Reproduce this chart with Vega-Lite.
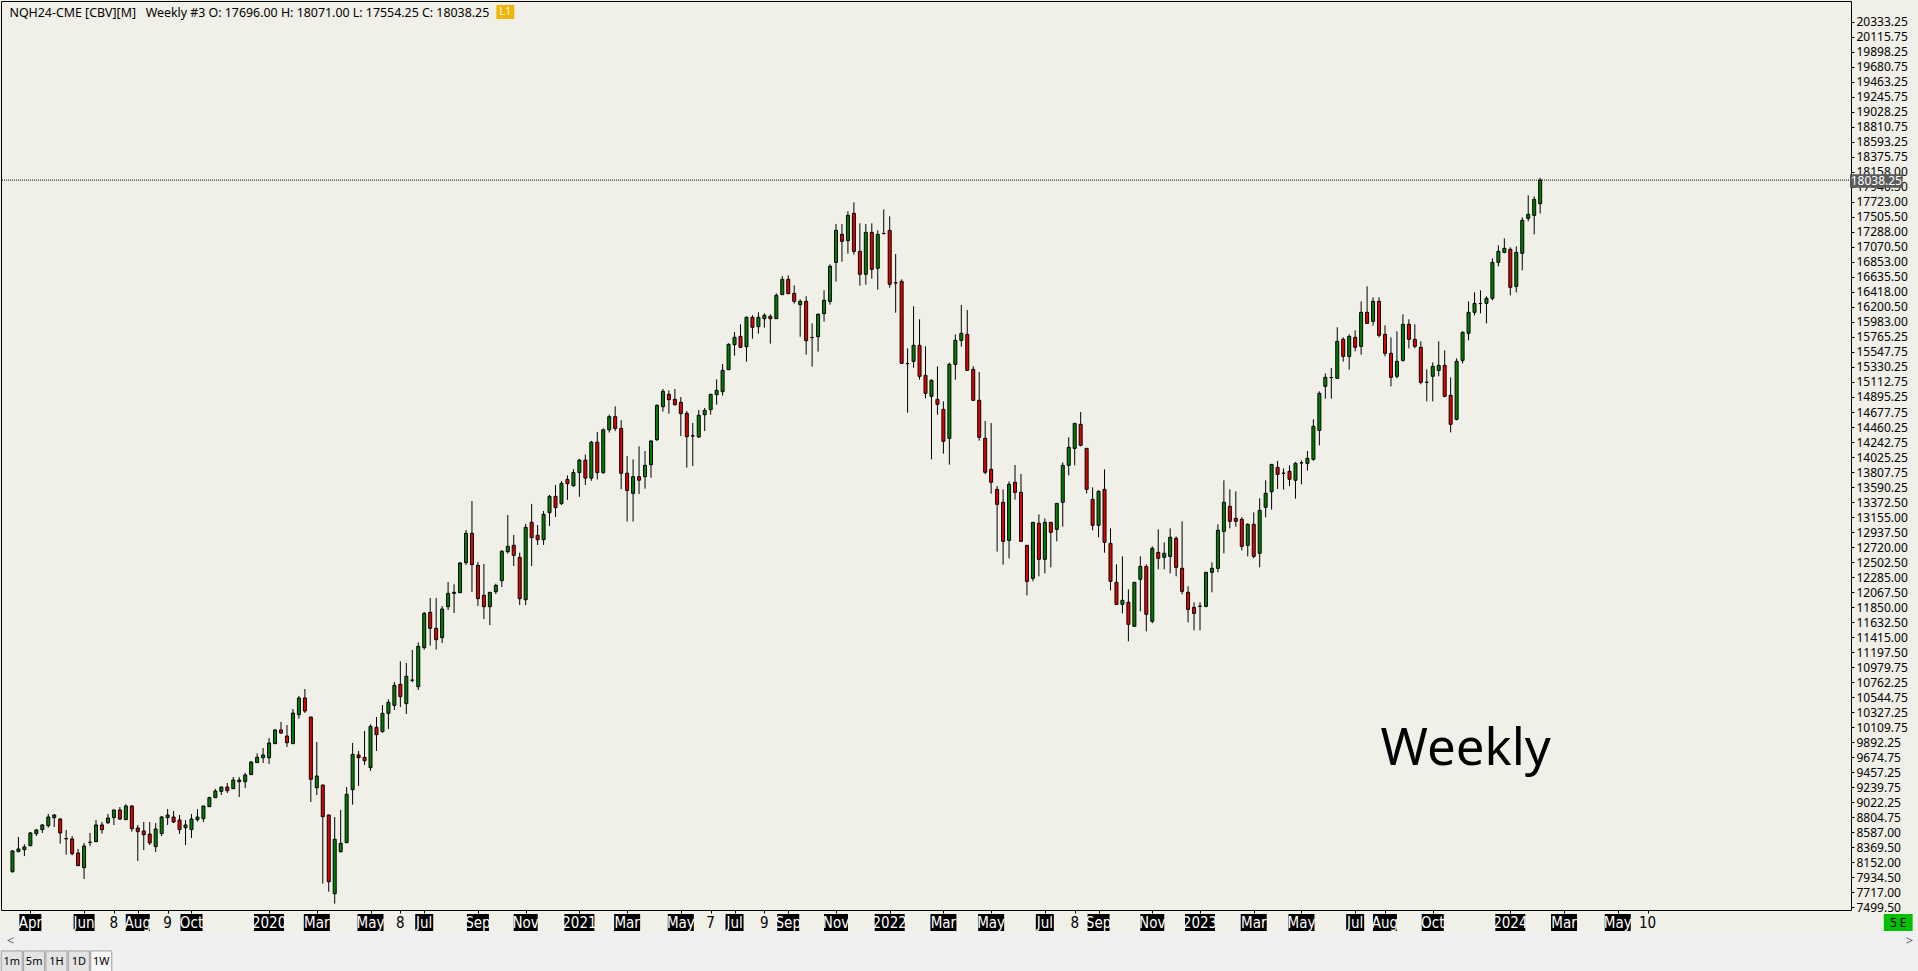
{
"$schema": "https://vega.github.io/schema/vega-lite/v6.json",
"background": "#f0efe8",
"padding": 0,
"spacing": 0,
"config": {"view": {"stroke": null}, "font": "Noto Sans"},
"resolve": {"scale": {"x": "independent", "y": "independent"}},
"datasets": {
"candles": [
{"d":"2019-03-11","o":8017,"h":8331,"l":8003,"c":8317},
{"d":"2019-03-18","o":8307,"h":8520,"l":8300,"c":8346},
{"d":"2019-03-25","o":8336,"h":8413,"l":8244,"c":8375},
{"d":"2019-04-01","o":8394,"h":8592,"l":8384,"c":8578},
{"d":"2019-04-08","o":8568,"h":8636,"l":8534,"c":8621},
{"d":"2019-04-15","o":8626,"h":8708,"l":8577,"c":8694},
{"d":"2019-04-22","o":8684,"h":8853,"l":8655,"c":8809},
{"d":"2019-04-29","o":8800,"h":8853,"l":8664,"c":8838},
{"d":"2019-05-06","o":8780,"h":8795,"l":8423,"c":8578},
{"d":"2019-05-13","o":8497,"h":8621,"l":8264,"c":8493},
{"d":"2019-05-20","o":8491,"h":8534,"l":8254,"c":8278},
{"d":"2019-05-27","o":8288,"h":8346,"l":8100,"c":8104},
{"d":"2019-06-03","o":8075,"h":8433,"l":7911,"c":8389},
{"d":"2019-06-10","o":8440,"h":8578,"l":8389,"c":8444},
{"d":"2019-06-17","o":8452,"h":8766,"l":8448,"c":8694},
{"d":"2019-06-24","o":8694,"h":8737,"l":8568,"c":8626},
{"d":"2019-07-01","o":8727,"h":8853,"l":8708,"c":8795},
{"d":"2019-07-08","o":8800,"h":8915,"l":8693,"c":8911},
{"d":"2019-07-15","o":8911,"h":8954,"l":8766,"c":8780},
{"d":"2019-07-22","o":8771,"h":8993,"l":8771,"c":8969},
{"d":"2019-07-29","o":8969,"h":8978,"l":8597,"c":8640},
{"d":"2019-08-05","o":8650,"h":8693,"l":8172,"c":8597},
{"d":"2019-08-12","o":8607,"h":8737,"l":8331,"c":8553},
{"d":"2019-08-19","o":8563,"h":8737,"l":8404,"c":8433},
{"d":"2019-08-26","o":8380,"h":8722,"l":8302,"c":8636},
{"d":"2019-09-02","o":8568,"h":8824,"l":8534,"c":8809},
{"d":"2019-09-09","o":8800,"h":8925,"l":8693,"c":8838},
{"d":"2019-09-16","o":8809,"h":8896,"l":8722,"c":8737},
{"d":"2019-09-23","o":8766,"h":8838,"l":8563,"c":8626},
{"d":"2019-09-30","o":8655,"h":8766,"l":8404,"c":8694},
{"d":"2019-10-07","o":8626,"h":8853,"l":8505,"c":8780},
{"d":"2019-10-14","o":8771,"h":8925,"l":8742,"c":8809},
{"d":"2019-10-21","o":8785,"h":8972,"l":8737,"c":8969},
{"d":"2019-10-28","o":8959,"h":9104,"l":8955,"c":9089},
{"d":"2019-11-04","o":9089,"h":9215,"l":9085,"c":9186},
{"d":"2019-11-11","o":9181,"h":9247,"l":9128,"c":9244},
{"d":"2019-11-18","o":9244,"h":9302,"l":9157,"c":9191},
{"d":"2019-11-25","o":9220,"h":9389,"l":9216,"c":9345},
{"d":"2019-12-02","o":9321,"h":9389,"l":9099,"c":9345},
{"d":"2019-12-09","o":9321,"h":9447,"l":9230,"c":9418},
{"d":"2019-12-16","o":9423,"h":9621,"l":9420,"c":9606},
{"d":"2019-12-23","o":9597,"h":9732,"l":9594,"c":9674},
{"d":"2019-12-30","o":9669,"h":9809,"l":9592,"c":9708},
{"d":"2020-01-06","o":9669,"h":9954,"l":9577,"c":9882},
{"d":"2020-01-13","o":9872,"h":10084,"l":9868,"c":10070},
{"d":"2020-01-20","o":10070,"h":10186,"l":10012,"c":10026},
{"d":"2020-01-27","o":9983,"h":10142,"l":9824,"c":9886},
{"d":"2020-02-03","o":9872,"h":10374,"l":9868,"c":10316},
{"d":"2020-02-10","o":10292,"h":10563,"l":10234,"c":10534},
{"d":"2020-02-17","o":10534,"h":10664,"l":10316,"c":10345},
{"d":"2020-02-24","o":10258,"h":10262,"l":9027,"c":9355},
{"d":"2020-03-02","o":9234,"h":9896,"l":9128,"c":9403},
{"d":"2020-03-09","o":9273,"h":9277,"l":7843,"c":8814},
{"d":"2020-03-16","o":8838,"h":8842,"l":7727,"c":7872},
{"d":"2020-03-23","o":7698,"h":8809,"l":7553,"c":8486},
{"d":"2020-03-30","o":8307,"h":8911,"l":8293,"c":8428},
{"d":"2020-04-06","o":8437,"h":9244,"l":8433,"c":9138},
{"d":"2020-04-13","o":9205,"h":9882,"l":8988,"c":9717},
{"d":"2020-04-20","o":9708,"h":9766,"l":9259,"c":9669},
{"d":"2020-04-27","o":9674,"h":10056,"l":9563,"c":9626},
{"d":"2020-05-04","o":9524,"h":10152,"l":9476,"c":10123},
{"d":"2020-05-11","o":10109,"h":10258,"l":9766,"c":10002},
{"d":"2020-05-18","o":10046,"h":10432,"l":10031,"c":10312},
{"d":"2020-05-25","o":10312,"h":10514,"l":10084,"c":10471},
{"d":"2020-06-01","o":10427,"h":10766,"l":10360,"c":10717},
{"d":"2020-06-08","o":10732,"h":11065,"l":10403,"c":10553},
{"d":"2020-06-15","o":10452,"h":11041,"l":10302,"c":10848},
{"d":"2020-06-22","o":10790,"h":11229,"l":10761,"c":10793},
{"d":"2020-06-29","o":10698,"h":11340,"l":10650,"c":11282},
{"d":"2020-07-06","o":11263,"h":11780,"l":11234,"c":11760},
{"d":"2020-07-13","o":11775,"h":11983,"l":11292,"c":11543},
{"d":"2020-07-20","o":11543,"h":11983,"l":11234,"c":11379},
{"d":"2020-07-27","o":11408,"h":11867,"l":11331,"c":11823},
{"d":"2020-08-03","o":11857,"h":12214,"l":11809,"c":12050},
{"d":"2020-08-10","o":12050,"h":12181,"l":11765,"c":12065},
{"d":"2020-08-17","o":12060,"h":12504,"l":12056,"c":12490},
{"d":"2020-08-24","o":12495,"h":12968,"l":12461,"c":12920},
{"d":"2020-08-31","o":12920,"h":13388,"l":12070,"c":12466},
{"d":"2020-09-07","o":12456,"h":12504,"l":11867,"c":11973},
{"d":"2020-09-14","o":12021,"h":12475,"l":11678,"c":11857},
{"d":"2020-09-21","o":11857,"h":12069,"l":11591,"c":12065},
{"d":"2020-09-28","o":12074,"h":12190,"l":12040,"c":12166},
{"d":"2020-10-05","o":12234,"h":12678,"l":12142,"c":12659},
{"d":"2020-10-12","o":12654,"h":13185,"l":12625,"c":12731},
{"d":"2020-10-19","o":12746,"h":12896,"l":12446,"c":12601},
{"d":"2020-10-26","o":12572,"h":12640,"l":11881,"c":11973},
{"d":"2020-11-02","o":11958,"h":13055,"l":11881,"c":13007},
{"d":"2020-11-09","o":13079,"h":13345,"l":12446,"c":12857},
{"d":"2020-11-16","o":12891,"h":13040,"l":12751,"c":12828},
{"d":"2020-11-23","o":12828,"h":13243,"l":12751,"c":13195},
{"d":"2020-11-30","o":13219,"h":13475,"l":13026,"c":13456},
{"d":"2020-12-07","o":13456,"h":13620,"l":13156,"c":13292},
{"d":"2020-12-14","o":13350,"h":13678,"l":13330,"c":13644},
{"d":"2020-12-21","o":13700,"h":13760,"l":13403,"c":13639},
{"d":"2020-12-28","o":13610,"h":13850,"l":13596,"c":13800},
{"d":"2021-01-04","o":13800,"h":14000,"l":13450,"c":13980},
{"d":"2021-01-11","o":13980,"h":14060,"l":13620,"c":13720},
{"d":"2021-01-18","o":13720,"h":14260,"l":13680,"c":14240},
{"d":"2021-01-25","o":14240,"h":14390,"l":13700,"c":13800},
{"d":"2021-02-01","o":13800,"h":14440,"l":13780,"c":14420},
{"d":"2021-02-08","o":14420,"h":14640,"l":14380,"c":14610},
{"d":"2021-02-15","o":14610,"h":14760,"l":14400,"c":14440},
{"d":"2021-02-22","o":14440,"h":14560,"l":13560,"c":13790},
{"d":"2021-03-01","o":13790,"h":14040,"l":13090,"c":13540},
{"d":"2021-03-08","o":13500,"h":13990,"l":13090,"c":13740},
{"d":"2021-03-15","o":13740,"h":14180,"l":13490,"c":13690},
{"d":"2021-03-22","o":13741,"h":14113,"l":13567,"c":13905},
{"d":"2021-03-29","o":13915,"h":14267,"l":13726,"c":14258},
{"d":"2021-04-05","o":14277,"h":14789,"l":14258,"c":14774},
{"d":"2021-04-12","o":14755,"h":15011,"l":14683,"c":14977},
{"d":"2021-04-19","o":14934,"h":14992,"l":14654,"c":14857},
{"d":"2021-04-26","o":14861,"h":15011,"l":14770,"c":14784},
{"d":"2021-05-03","o":14818,"h":14895,"l":14330,"c":14654},
{"d":"2021-05-10","o":14658,"h":14692,"l":13871,"c":14320},
{"d":"2021-05-17","o":14330,"h":14519,"l":13895,"c":14333},
{"d":"2021-05-24","o":14316,"h":14707,"l":14301,"c":14630},
{"d":"2021-05-31","o":14639,"h":14736,"l":14402,"c":14702},
{"d":"2021-06-07","o":14712,"h":14938,"l":14639,"c":14934},
{"d":"2021-06-14","o":14929,"h":15151,"l":14784,"c":14992},
{"d":"2021-06-21","o":14972,"h":15373,"l":14915,"c":15282},
{"d":"2021-06-28","o":15291,"h":15673,"l":15287,"c":15658},
{"d":"2021-07-05","o":15653,"h":15837,"l":15494,"c":15760},
{"d":"2021-07-12","o":15774,"h":15948,"l":15610,"c":15615},
{"d":"2021-07-19","o":15624,"h":16064,"l":15407,"c":16050},
{"d":"2021-07-26","o":16050,"h":16079,"l":15740,"c":15905},
{"d":"2021-08-02","o":15914,"h":16122,"l":15813,"c":16050},
{"d":"2021-08-09","o":16030,"h":16108,"l":15900,"c":16079},
{"d":"2021-08-16","o":16064,"h":16093,"l":15668,"c":16030},
{"d":"2021-08-23","o":16030,"h":16397,"l":16026,"c":16368},
{"d":"2021-08-30","o":16378,"h":16648,"l":16374,"c":16600},
{"d":"2021-09-06","o":16600,"h":16658,"l":16388,"c":16392},
{"d":"2021-09-13","o":16397,"h":16513,"l":16248,"c":16281},
{"d":"2021-09-20","o":16233,"h":16310,"l":15769,"c":16281},
{"d":"2021-09-27","o":16281,"h":16354,"l":15509,"c":15711},
{"d":"2021-10-04","o":15755,"h":15963,"l":15335,"c":15758},
{"d":"2021-10-11","o":15769,"h":16108,"l":15552,"c":16093},
{"d":"2021-10-18","o":16103,"h":16441,"l":15987,"c":16296},
{"d":"2021-10-25","o":16281,"h":16818,"l":16233,"c":16789},
{"d":"2021-11-01","o":16846,"h":17402,"l":16566,"c":17310},
{"d":"2021-11-08","o":17252,"h":17402,"l":16856,"c":17151},
{"d":"2021-11-15","o":17160,"h":17585,"l":16972,"c":17527},
{"d":"2021-11-22","o":17556,"h":17716,"l":16958,"c":17006},
{"d":"2021-11-29","o":17006,"h":17412,"l":16508,"c":16673},
{"d":"2021-12-06","o":16673,"h":17402,"l":16523,"c":17281},
{"d":"2021-12-13","o":17281,"h":17412,"l":16610,"c":16745},
{"d":"2021-12-20","o":16760,"h":17310,"l":16450,"c":17252},
{"d":"2021-12-27","o":17262,"h":17614,"l":17252,"c":17265},
{"d":"2022-01-03","o":17310,"h":17513,"l":16479,"c":16528},
{"d":"2022-01-10","o":16547,"h":16967,"l":16117,"c":16550},
{"d":"2022-01-17","o":16571,"h":16600,"l":15380,"c":15383},
{"d":"2022-01-24","o":15378,"h":15600,"l":14668,"c":15381},
{"d":"2022-01-31","o":15412,"h":16209,"l":15320,"c":15644},
{"d":"2022-02-07","o":15644,"h":16021,"l":15146,"c":15195},
{"d":"2022-02-14","o":15209,"h":15629,"l":14876,"c":14948},
{"d":"2022-02-21","o":14905,"h":15151,"l":13992,"c":15137},
{"d":"2022-02-28","o":14861,"h":15339,"l":14639,"c":14789},
{"d":"2022-03-07","o":14716,"h":14832,"l":14074,"c":14253},
{"d":"2022-03-14","o":14296,"h":15393,"l":13915,"c":15368},
{"d":"2022-03-21","o":15368,"h":15803,"l":15146,"c":15716},
{"d":"2022-03-28","o":15716,"h":16228,"l":15625,"c":15818},
{"d":"2022-04-04","o":15803,"h":16156,"l":15278,"c":15282},
{"d":"2022-04-11","o":15296,"h":15340,"l":14843,"c":14847},
{"d":"2022-04-18","o":14847,"h":15257,"l":14262,"c":14311},
{"d":"2022-04-25","o":14296,"h":14547,"l":13775,"c":13804},
{"d":"2022-05-02","o":13847,"h":14518,"l":13494,"c":13659},
{"d":"2022-05-09","o":13557,"h":13606,"l":12654,"c":13340},
{"d":"2022-05-16","o":13369,"h":13557,"l":12466,"c":12804},
{"d":"2022-05-23","o":12818,"h":13673,"l":12557,"c":13630},
{"d":"2022-05-30","o":13659,"h":13910,"l":13408,"c":13514},
{"d":"2022-06-06","o":13514,"h":13779,"l":12800,"c":12804},
{"d":"2022-06-13","o":12746,"h":12750,"l":12021,"c":12224},
{"d":"2022-06-20","o":12268,"h":13083,"l":12224,"c":13079},
{"d":"2022-06-27","o":13065,"h":13195,"l":12297,"c":12543},
{"d":"2022-07-04","o":12543,"h":13137,"l":12340,"c":13079},
{"d":"2022-07-11","o":13079,"h":13083,"l":12427,"c":12934},
{"d":"2022-07-18","o":12978,"h":13358,"l":12804,"c":13354},
{"d":"2022-07-25","o":13369,"h":13948,"l":13016,"c":13905},
{"d":"2022-08-01","o":13905,"h":14311,"l":13760,"c":14166},
{"d":"2022-08-08","o":14151,"h":14517,"l":13905,"c":14513},
{"d":"2022-08-15","o":14499,"h":14678,"l":14180,"c":14195},
{"d":"2022-08-22","o":14151,"h":14155,"l":13499,"c":13557},
{"d":"2022-08-29","o":13412,"h":13586,"l":12963,"c":13036},
{"d":"2022-09-05","o":13036,"h":13543,"l":12862,"c":13528},
{"d":"2022-09-12","o":13557,"h":13847,"l":12640,"c":12789},
{"d":"2022-09-19","o":12775,"h":12992,"l":12094,"c":12224},
{"d":"2022-09-26","o":12210,"h":12470,"l":11887,"c":11891},
{"d":"2022-10-03","o":11891,"h":12586,"l":11761,"c":11949},
{"d":"2022-10-10","o":11920,"h":12108,"l":11355,"c":11601},
{"d":"2022-10-17","o":11572,"h":12214,"l":11568,"c":12210},
{"d":"2022-10-24","o":12253,"h":12586,"l":11790,"c":12441},
{"d":"2022-10-31","o":12441,"h":12470,"l":11500,"c":11746},
{"d":"2022-11-07","o":11645,"h":12731,"l":11616,"c":12702},
{"d":"2022-11-14","o":12644,"h":12978,"l":12398,"c":12557},
{"d":"2022-11-21","o":12572,"h":12789,"l":12398,"c":12630},
{"d":"2022-11-28","o":12586,"h":12992,"l":12340,"c":12862},
{"d":"2022-12-05","o":12847,"h":12876,"l":12297,"c":12427},
{"d":"2022-12-12","o":12413,"h":13094,"l":12036,"c":12079},
{"d":"2022-12-19","o":12065,"h":12152,"l":11630,"c":11818},
{"d":"2022-12-26","o":11847,"h":11920,"l":11514,"c":11760},
{"d":"2023-01-02","o":11862,"h":11920,"l":11514,"c":11865},
{"d":"2023-01-09","o":11862,"h":12360,"l":11847,"c":12355},
{"d":"2023-01-16","o":12355,"h":12500,"l":12065,"c":12413},
{"d":"2023-01-23","o":12413,"h":13050,"l":12355,"c":12963},
{"d":"2023-01-30","o":12949,"h":13688,"l":12630,"c":13369},
{"d":"2023-02-06","o":13311,"h":13557,"l":12992,"c":13094},
{"d":"2023-02-13","o":13137,"h":13528,"l":13016,"c":13094},
{"d":"2023-02-20","o":13123,"h":13152,"l":12673,"c":12731},
{"d":"2023-02-27","o":12746,"h":13065,"l":12586,"c":13050},
{"d":"2023-03-06","o":13050,"h":13224,"l":12557,"c":12586},
{"d":"2023-03-13","o":12630,"h":13427,"l":12427,"c":13253},
{"d":"2023-03-20","o":13296,"h":13688,"l":13152,"c":13499},
{"d":"2023-03-27","o":13523,"h":13923,"l":13263,"c":13919},
{"d":"2023-04-03","o":13876,"h":13968,"l":13562,"c":13774},
{"d":"2023-04-10","o":13789,"h":13861,"l":13552,"c":13792},
{"d":"2023-04-17","o":13818,"h":13905,"l":13605,"c":13702},
{"d":"2023-04-24","o":13688,"h":13953,"l":13422,"c":13934},
{"d":"2023-05-01","o":13939,"h":13977,"l":13630,"c":13942},
{"d":"2023-05-08","o":13934,"h":14113,"l":13828,"c":14006},
{"d":"2023-05-15","o":13992,"h":14572,"l":13973,"c":14470},
{"d":"2023-05-22","o":14412,"h":14977,"l":14195,"c":14948},
{"d":"2023-05-29","o":15050,"h":15238,"l":14871,"c":15180},
{"d":"2023-06-05","o":15175,"h":15315,"l":14871,"c":15178},
{"d":"2023-06-12","o":15166,"h":15905,"l":15162,"c":15702},
{"d":"2023-06-19","o":15731,"h":15760,"l":15407,"c":15484},
{"d":"2023-06-26","o":15484,"h":15803,"l":15291,"c":15774},
{"d":"2023-07-03","o":15760,"h":15861,"l":15557,"c":15615},
{"d":"2023-07-10","o":15629,"h":16281,"l":15508,"c":16122},
{"d":"2023-07-17","o":16122,"h":16499,"l":15958,"c":15962},
{"d":"2023-07-24","o":15991,"h":16339,"l":15929,"c":16281},
{"d":"2023-07-31","o":16281,"h":16339,"l":15760,"c":15789},
{"d":"2023-08-07","o":15803,"h":15934,"l":15484,"c":15528},
{"d":"2023-08-14","o":15528,"h":15760,"l":15050,"c":15180},
{"d":"2023-08-21","o":15195,"h":15847,"l":15166,"c":15412},
{"d":"2023-08-28","o":15426,"h":16093,"l":15407,"c":15948},
{"d":"2023-09-04","o":15948,"h":16021,"l":15600,"c":15731},
{"d":"2023-09-11","o":15731,"h":15948,"l":15600,"c":15629},
{"d":"2023-09-18","o":15615,"h":15702,"l":15079,"c":15108},
{"d":"2023-09-25","o":15108,"h":15296,"l":14832,"c":15110},
{"d":"2023-10-02","o":15195,"h":15397,"l":14832,"c":15339},
{"d":"2023-10-09","o":15281,"h":15702,"l":15195,"c":15354},
{"d":"2023-10-16","o":15354,"h":15571,"l":14890,"c":14905},
{"d":"2023-10-23","o":14919,"h":15180,"l":14383,"c":14499},
{"d":"2023-10-30","o":14571,"h":15455,"l":14557,"c":15412},
{"d":"2023-11-06","o":15426,"h":15847,"l":15383,"c":15832},
{"d":"2023-11-13","o":15818,"h":16281,"l":15716,"c":16122},
{"d":"2023-11-20","o":16122,"h":16412,"l":16078,"c":16252},
{"d":"2023-11-27","o":16248,"h":16441,"l":16107,"c":16250},
{"d":"2023-12-04","o":16252,"h":16354,"l":15962,"c":16325},
{"d":"2023-12-11","o":16325,"h":16904,"l":16296,"c":16846},
{"d":"2023-12-18","o":16846,"h":17093,"l":16788,"c":17006},
{"d":"2023-12-25","o":16991,"h":17194,"l":16977,"c":17049},
{"d":"2024-01-01","o":17035,"h":17064,"l":16368,"c":16484},
{"d":"2024-01-08","o":16499,"h":17078,"l":16412,"c":16991},
{"d":"2024-01-15","o":16977,"h":17498,"l":16730,"c":17455},
{"d":"2024-01-22","o":17484,"h":17817,"l":17441,"c":17542},
{"d":"2024-01-29","o":17527,"h":17803,"l":17252,"c":17759},
{"d":"2024-02-05","o":17696,"h":18071,"l":17554.25,"c":18038.25}
],
"labels": [
{"d":"2019-04-01","t":"Apr"},{"d":"2019-06-03","t":"Jun"},{"d":"2019-07-08","t":"8"},{"d":"2019-08-05","t":"Aug"},{"d":"2019-09-09","t":"9"},{"d":"2019-10-07","t":"Oct"},
{"d":"2020-01-06","t":"2020"},{"d":"2020-03-02","t":"Mar"},{"d":"2020-05-04","t":"May"},{"d":"2020-06-08","t":"8"},{"d":"2020-07-06","t":"Jul"},{"d":"2020-09-07","t":"Sep"},{"d":"2020-11-02","t":"Nov"},
{"d":"2021-01-04","t":"2021"},{"d":"2021-03-01","t":"Mar"},{"d":"2021-05-03","t":"May"},{"d":"2021-06-07","t":"7"},{"d":"2021-07-05","t":"Jul"},{"d":"2021-08-09","t":"9"},{"d":"2021-09-06","t":"Sep"},{"d":"2021-11-01","t":"Nov"},
{"d":"2022-01-03","t":"2022"},{"d":"2022-03-07","t":"Mar"},{"d":"2022-05-02","t":"May"},{"d":"2022-07-04","t":"Jul"},{"d":"2022-08-08","t":"8"},{"d":"2022-09-05","t":"Sep"},{"d":"2022-11-07","t":"Nov"},
{"d":"2023-01-02","t":"2023"},{"d":"2023-03-06","t":"Mar"},{"d":"2023-05-01","t":"May"},{"d":"2023-07-03","t":"Jul"},{"d":"2023-08-07","t":"Aug"},{"d":"2023-10-02","t":"Oct"},
{"d":"2024-01-01","t":"2024"},{"d":"2024-03-04","t":"Mar"},{"d":"2024-05-06","t":"May"},{"d":"2024-06-10","t":"10"}
],
"buttons": [{"b":"1m"},{"b":"5m"},{"b":"1H"},{"b":"1D"},{"b":"1W"}]
},
"vconcat": [
{
"width": 1850, "height": 909,
"view": {"stroke": "#000000", "strokeWidth": 1},
"encoding": {
  "x": {"type": "temporal",
        "scale": {"type": "utc", "nice": false, "domain": [{"year":2019,"month":3,"date":3,"hours":10,"utc":true},{"year":2025,"month":1,"date":28,"hours":18,"utc":true}]},
        "axis": {"orient": "bottom", "labels": false, "ticks": true, "tickSize": 3, "tickColor": "#000000", "domain": false, "grid": false, "title": null, "minExtent": 0, "maxExtent": 3,
          "values": [{"year":2019,"month":4,"date":1,"utc":true},{"year":2019,"month":6,"date":3,"utc":true},{"year":2019,"month":7,"date":8,"utc":true},{"year":2019,"month":8,"date":5,"utc":true},{"year":2019,"month":9,"date":9,"utc":true},{"year":2019,"month":10,"date":7,"utc":true},
            {"year":2020,"month":1,"date":6,"utc":true},{"year":2020,"month":3,"date":2,"utc":true},{"year":2020,"month":5,"date":4,"utc":true},{"year":2020,"month":6,"date":8,"utc":true},{"year":2020,"month":7,"date":6,"utc":true},{"year":2020,"month":9,"date":7,"utc":true},{"year":2020,"month":11,"date":2,"utc":true},
            {"year":2021,"month":1,"date":4,"utc":true},{"year":2021,"month":3,"date":1,"utc":true},{"year":2021,"month":5,"date":3,"utc":true},{"year":2021,"month":6,"date":7,"utc":true},{"year":2021,"month":7,"date":5,"utc":true},{"year":2021,"month":8,"date":9,"utc":true},{"year":2021,"month":9,"date":6,"utc":true},{"year":2021,"month":11,"date":1,"utc":true},
            {"year":2022,"month":1,"date":3,"utc":true},{"year":2022,"month":3,"date":7,"utc":true},{"year":2022,"month":5,"date":2,"utc":true},{"year":2022,"month":7,"date":4,"utc":true},{"year":2022,"month":8,"date":8,"utc":true},{"year":2022,"month":9,"date":5,"utc":true},{"year":2022,"month":11,"date":7,"utc":true},
            {"year":2023,"month":1,"date":2,"utc":true},{"year":2023,"month":3,"date":6,"utc":true},{"year":2023,"month":5,"date":1,"utc":true},{"year":2023,"month":7,"date":3,"utc":true},{"year":2023,"month":8,"date":7,"utc":true},{"year":2023,"month":10,"date":2,"utc":true},
            {"year":2024,"month":1,"date":1,"utc":true},{"year":2024,"month":3,"date":4,"utc":true},{"year":2024,"month":5,"date":6,"utc":true},{"year":2024,"month":6,"date":10,"utc":true}]}},
  "y": {"type": "quantitative",
        "scale": {"domain": [7461.8, 20633.2], "zero": false, "nice": false},
        "axis": {"orient": "right", "title": null, "grid": false, "domain": false, "ticks": true, "tickSize": 3, "tickColor": "#000000",
          "labelFont": "Noto Sans", "labelFontSize": 12, "labelColor": "#000000", "labelPadding": 2, "labelOverlap": false, "labelFlush": false, "format": ".2f",
          "values": [20333.25,20115.75,19898.25,19680.75,19463.25,19245.75,19028.25,18810.75,18593.25,18375.75,18158,17940.5,17723,17505.5,17288,17070.5,16853,16635.5,16418,16200.5,15983,15765.25,15547.75,15330.25,15112.75,14895.25,14677.75,14460.25,14242.75,14025.25,13807.75,13590.25,13372.5,13155,12937.5,12720,12502.5,12285,12067.5,11850,11632.5,11415,11197.5,10979.75,10762.25,10544.75,10327.25,10109.75,9892.25,9674.75,9457.25,9239.75,9022.25,8804.75,8587,8369.5,8152,7934.5,7717,7499.5]}}
},
"layer": [
{"data": {"name": "candles"},
 "mark": {"type": "rule", "color": "#000000", "strokeWidth": 1},
 "encoding": {"x": {"field": "d"}, "y": {"field": "l"}, "y2": {"field": "h"}}},
{"data": {"name": "candles"},
 "mark": {"type": "bar", "width": 3, "stroke": "#000000", "strokeWidth": 1},
 "encoding": {"x": {"field": "d"}, "y": {"field": "o"}, "y2": {"field": "c"},
  "fill": {"condition": {"test": "datum.c > datum.o", "value": "#008000"}, "value": "#e60000"}}},
{"data": {"values": [{}]},
 "mark": {"type": "rule", "color": "#000000", "strokeWidth": 1, "strokeDash": [1, 1]},
 "encoding": {"x": null, "y": {"datum": 18038.25}}},
{"data": {"values": [{}]},
 "mark": {"type": "text", "text": "NQH24-CME [CBV][M]\u00a0\u00a0 Weekly #3 O: 17696.00 H: 18071.00 L: 17554.25 C: 18038.25", "align": "left", "baseline": "alphabetic", "font": "Noto Sans", "fontSize": 12.4, "color": "#000000"},
 "encoding": {"x": {"datum": {"year":2019,"month":3,"date":7,"hours":12,"utc":true}}, "y": {"datum": 20401}}},
{"data": {"values": [{}]},
 "mark": {"type": "rect", "color": "#f5b400"},
 "encoding": {"x": {"datum": {"year":2020,"month":9,"date":28,"hours":14,"utc":true}}, "x2": {"datum": {"year":2020,"month":10,"date":19,"hours":14,"utc":true}},
   "y": {"datum": 20575}, "y2": {"datum": 20372}}},
{"data": {"values": [{}]},
 "mark": {"type": "text", "text": "L1", "align": "center", "baseline": "middle", "font": "Noto Sans", "fontSize": 11, "color": "#ffffff"},
 "encoding": {"x": {"datum": {"year":2020,"month":10,"date":9,"hours":2,"utc":true}}, "y": {"datum": 20473}}},
{"data": {"values": [{}]},
 "mark": {"type": "text", "text": "Weekly", "align": "left", "baseline": "alphabetic", "font": "Noto Sans", "fontSize": 51, "color": "#000000"},
 "encoding": {"x": {"datum": {"year":2023,"month":8,"date":1,"hours":18,"utc":true}}, "y": {"datum": 9563}}},
{"data": {"values": [{}]},
 "mark": {"type": "rect", "color": "#5a5a5a"},
 "encoding": {"x": {"datum": {"year":2025,"month":2,"date":2,"hours":10,"utc":true}}, "x2": {"datum": {"year":2025,"month":4,"date":5,"hours":6,"utc":true}},
   "y": {"datum": 18122}, "y2": {"datum": 17928}}},
{"data": {"values": [{}]},
 "mark": {"type": "text", "text": "18038.25", "align": "center", "baseline": "middle", "font": "Noto Sans", "fontSize": 12, "color": "#ffffff"},
 "encoding": {"x": {"datum": {"year":2025,"month":3,"date":5,"hours":8,"utc":true}}, "y": {"datum": 18025}}}
]
},
{
"width": 1850, "height": 17,
"data": {"name": "labels"},
"layer": [
{"transform": [{"filter": "length(datum.t) == 4"}],
 "mark": {"type": "bar", "width": 30, "color": "#000000"},
 "encoding": {
  "x": {"field": "d", "type": "temporal", "axis": null, "scale": {"type": "utc", "nice": false, "domain": [{"year":2019,"month":3,"date":3,"hours":10,"utc":true},{"year":2025,"month":1,"date":28,"hours":18,"utc":true}]}},
  "y": {"datum": 0, "type": "quantitative", "scale": {"domain": [0, 1]}, "axis": null}, "y2": {"datum": 1}}},
{"transform": [{"filter": "datum.t == 'Mar' || datum.t == 'May'"}],
 "mark": {"type": "bar", "width": 26, "color": "#000000"},
 "encoding": {"x": {"field": "d", "type": "temporal", "axis": null}, "y": {"datum": 0, "type": "quantitative", "axis": null}, "y2": {"datum": 1}}},
{"transform": [{"filter": "datum.t == 'Aug' || datum.t == 'Nov'"}],
 "mark": {"type": "bar", "width": 24, "color": "#000000"},
 "encoding": {"x": {"field": "d", "type": "temporal", "axis": null}, "y": {"datum": 0, "type": "quantitative", "axis": null}, "y2": {"datum": 1}}},
{"transform": [{"filter": "datum.t == 'Apr' || datum.t == 'Sep' || datum.t == 'Oct'"}],
 "mark": {"type": "bar", "width": 22, "color": "#000000"},
 "encoding": {"x": {"field": "d", "type": "temporal", "axis": null}, "y": {"datum": 0, "type": "quantitative", "axis": null}, "y2": {"datum": 1}}},
{"transform": [{"filter": "datum.t == 'Jun'"}],
 "mark": {"type": "bar", "width": 21, "color": "#000000"},
 "encoding": {"x": {"field": "d", "type": "temporal", "axis": null}, "y": {"datum": 0, "type": "quantitative", "axis": null}, "y2": {"datum": 1}}},
{"transform": [{"filter": "datum.t == 'Jul'"}],
 "mark": {"type": "bar", "width": 18, "color": "#000000"},
 "encoding": {"x": {"field": "d", "type": "temporal", "axis": null}, "y": {"datum": 0, "type": "quantitative", "axis": null}, "y2": {"datum": 1}}},
{"mark": {"type": "text", "font": "Liberation Sans Narrow, DejaVu Sans Condensed, sans-serif", "fontSize": 15, "align": "center", "baseline": "middle"},
 "encoding": {"x": {"field": "d", "type": "temporal", "axis": null}, "y": {"datum": 0.5, "type": "quantitative", "axis": null},
  "text": {"field": "t"},
  "color": {"condition": {"test": "length(datum.t) <= 2", "value": "#000000"}, "value": "#ffffff"}}},
{"data": {"values": [{}]},
 "mark": {"type": "rect", "color": "#00c000"},
 "encoding": {"x": {"datum": {"year":2025,"month":3,"date":14,"hours":2,"utc":true}, "type": "temporal", "axis": null}, "x2": {"datum": {"year":2025,"month":4,"date":16,"hours":22,"utc":true}},
  "y": {"datum": 0, "type": "quantitative", "axis": null}, "y2": {"datum": 1}}},
{"data": {"values": [{}]},
 "mark": {"type": "text", "text": "5 E", "align": "center", "baseline": "middle", "font": "Noto Sans", "fontSize": 12, "color": "#000000"},
 "encoding": {"x": {"datum": {"year":2025,"month":3,"date":31,"utc":true}, "type": "temporal", "axis": null}, "y": {"datum": 0.5, "type": "quantitative", "axis": null}}}
]
},
{
"width": 1918, "height": 19,
"view": {"fill": "#f0f0f0"},
"data": {"values": [{"s": "<"}, {"s": ">"}]},
"mark": {"type": "text", "fontSize": 13, "color": "#606060", "baseline": "middle"},
"encoding": {"x": {"field": "s", "type": "nominal", "sort": null, "scale": {"type": "point", "padding": 0.005}, "axis": null}, "text": {"field": "s"}}
},
{
"spacing": 0,
"resolve": {"scale": {"x": "independent", "y": "independent"}},
"hconcat": [
{"width": 111, "height": 23,
 "view": {"fill": "#f0f0f0"},
 "data": {"name": "buttons"},
 "layer": [
  {"mark": {"type": "bar", "stroke": "#a0a0a0", "strokeWidth": 1},
   "encoding": {"x": {"field": "b", "type": "nominal", "sort": null, "scale": {"paddingInner": 0.06, "paddingOuter": 0.01}, "axis": null},
     "y": {"datum": 0, "type": "quantitative", "scale": {"domain": [0, 1]}, "axis": null}, "y2": {"datum": 0.96},
     "fill": {"condition": {"test": "datum.b == '1W'", "value": "#f7f7f7"}, "value": "#e3e3e3"}}},
  {"mark": {"type": "text", "font": "Noto Sans", "fontSize": 11, "color": "#000000", "baseline": "middle"},
   "encoding": {"x": {"field": "b", "type": "nominal", "sort": null, "axis": null}, "y": {"datum": 0.48, "type": "quantitative", "axis": null}, "text": {"field": "b"}}}
 ]},
{"width": 1807, "height": 23,
 "view": {"fill": "#f0f0f0"},
 "data": {"values": [{}]},
 "mark": {"type": "text", "text": ""},
 "encoding": {}}
]
}
]
}
